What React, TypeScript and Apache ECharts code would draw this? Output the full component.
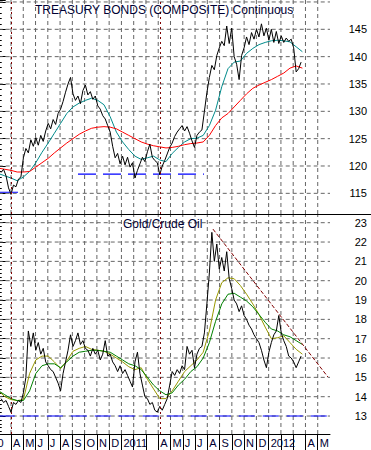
import React, { useEffect, useRef } from 'react';
import * as echarts from 'echarts';

// x unit: months since 1 Mar 2010 (month index 0 = Mar 2010, 27 = Jun 2012)
const monthLabels = ['', 'A', 'M', 'J', 'J', 'A', 'S', 'O', 'N', 'D', '2011', '', '', 'A', 'M', 'J', 'J', 'A', 'S', 'O', 'N', 'D', '2012', '', '', 'A', 'M'];
const firstYearLabel = '2010';
const firstYearLabelAt = 0.4;
const markerMonths = [1, 13.143];
const bondTickLabels = [115, 120, 125, 130, 135, 140, 145];
const bondGridLevels = [115, 120, 125, 130, 135, 140, 145, 150];
const ratioTickLabels = [13, 14, 15, 16, 17, 18, 19, 20, 21, 22, 23];

const closeStart = 0.1915;
const closeStep = 0.2021;
const bondClose = [
  118.8, 119.4, 118.2, 116.0, 114.8, 116.5, 116.2, 117.6, 118.0, 121.5,
  123.2, 122.4, 124.8, 123.6, 125.2, 123.8, 125.6, 124.5, 126.4, 127.8,
  126.8, 128.5, 127.6, 129.6, 130.4, 131.8, 133.5, 135.0, 136.2, 133.2,
  132.0, 132.8, 131.4, 133.8, 134.8, 133.0, 133.6, 132.2, 132.8, 131.0,
  130.4, 129.2, 128.6, 127.4, 126.2, 123.6, 121.5, 122.3, 120.4, 121.8,
  120.2, 121.6, 119.8, 120.6, 117.8, 119.2, 120.4, 121.6, 120.8, 122.6,
  124.0, 121.6, 121.0, 120.6, 118.4, 120.0, 121.0, 122.2, 123.4, 124.2,
  125.4, 126.2, 126.8, 127.4, 126.4, 127.2, 126.0, 124.6, 123.4, 125.6,
  126.2, 126.6, 130.0, 133.4, 136.2, 138.4, 137.6, 140.2, 141.6, 142.8,
  142.0, 145.6, 142.4, 145.2, 140.0, 138.6, 135.8, 140.2, 141.6, 143.6,
  142.2, 144.4, 143.2, 145.0, 143.6, 146.0, 143.8, 145.2, 143.0, 145.0,
  142.6, 144.6, 142.4, 143.8, 142.6, 143.4, 142.8, 143.2, 141.6, 137.2,
  137.8, 139.0
];
const ratioClose = [
  13.9, 13.7, 13.8, 13.5, 13.2, 13.7, 13.6, 13.8, 13.7, 14.2,
  15.0, 17.4, 16.6, 17.3, 16.4, 16.8, 16.2, 16.5, 15.8, 15.6,
  15.4, 15.3, 15.0, 14.7, 14.3, 15.2, 15.8, 16.4, 17.2, 16.6,
  16.9, 17.3, 16.7, 16.9, 16.5, 16.4, 16.1, 16.5, 16.2, 16.4,
  15.9, 16.2, 16.9, 16.1, 16.2, 15.8, 15.6, 15.3, 15.6, 15.2,
  15.4, 15.1, 14.8, 14.5, 15.8, 16.3, 15.2, 14.6, 14.0, 13.9,
  13.6, 13.7, 13.3, 13.2, 13.5, 13.3, 13.6, 13.9, 14.6, 15.3,
  15.1, 15.4, 15.2, 15.6, 15.4, 16.6, 16.2, 16.4, 15.5, 16.2,
  16.5, 16.6, 17.3, 18.8, 20.4, 22.5, 21.0, 21.9, 20.6, 21.2,
  20.5, 21.5, 20.1, 19.6, 19.0, 18.8, 18.4, 18.7, 18.2, 18.0,
  17.7, 17.5, 17.2, 17.0, 16.8, 16.4, 15.9, 15.5, 16.3, 16.8,
  17.2, 17.4, 18.2, 17.3, 16.9, 16.6, 16.1, 16.0, 15.8, 15.5,
  15.8, 16.1
];

const maStart = -0.0106;
const maStep = 0.5053;
const bondMaFast = [
  118.6, 118.2, 117.8, 117.3, 118.0, 119.0, 120.6, 122.5, 124.2, 126.0,
  127.8, 129.6, 130.8, 131.5, 132.0, 132.4, 132.0, 131.2, 129.0, 126.2,
  124.4, 123.0, 121.8, 121.2, 121.5, 121.8, 121.1, 120.8, 122.3, 123.4,
  124.4, 125.0, 125.1, 125.6, 127.4, 130.2, 134.5, 137.8, 139.0, 139.2,
  140.6, 141.5, 142.2, 142.6, 142.9, 143.0, 142.9, 142.7, 141.8, 140.9
];
const bondMaSlow = [
  119.6, 119.4, 119.2, 118.9, 118.9, 119.0, 119.8, 120.6, 121.4, 122.4,
  123.3, 124.2, 125.0, 125.8, 126.4, 126.9, 127.1, 127.2, 127.1, 126.8,
  126.2, 125.6, 125.0, 124.4, 124.0, 123.7, 123.5, 123.3, 123.4, 123.6,
  123.9, 124.1, 124.2, 124.4, 125.6, 127.4, 128.8, 129.6, 130.8, 132.0,
  133.2, 134.2, 134.8, 135.3, 135.8, 136.4, 137.0, 137.9, 138.3, 137.9
];
const ratioMaFast = [
  14.3, 14.0, 13.85, 13.8, 13.85, 15.2, 15.9, 16.1, 16.1, 15.8,
  15.45, 15.85, 16.35, 16.5, 16.6, 16.45, 16.4, 16.35, 16.2, 16.0,
  15.8, 15.55, 15.4, 15.5, 14.9, 14.4, 13.9, 13.9, 14.3, 14.8,
  15.3, 15.6, 15.9, 16.3, 17.4, 19.0, 19.9, 20.15, 20.1, 19.75,
  19.3, 18.8, 18.25, 17.6, 17.0, 17.05, 17.15, 16.8, 16.45, 16.2
];
const ratioMaSlow = [
  14.3, 14.1, 13.9, 13.8, 13.8, 14.3, 15.2, 15.6, 15.7, 15.7,
  15.5, 15.8, 16.1, 16.3, 16.35, 16.4, 16.4, 16.35, 16.3, 16.1,
  15.9, 15.7, 15.6, 15.4, 15.0, 14.6, 14.3, 14.1, 14.2, 14.6,
  14.9, 15.3, 15.55, 16.0, 16.8, 17.9, 18.8, 19.3, 19.35, 19.15,
  18.95, 18.65, 18.25, 17.85, 17.5, 17.4, 17.2, 17.1, 16.9, 16.7
];

// [from month, to month, level]
const bondSupports = [[0.1035, 1.733, 115.2], [6.46, 16.73, 118.5]];
const ratioSupport = [0, 27, 13];
const ratioTrend = [[17.46, 22.67], [26.83, 15.02]];

const X_MAX = 27;
const TOP_Y = [111.22, 150.36];
const BOT_Y = [12.07, 23.45];
const FONT = "'Liberation Sans', Arial, sans-serif";

const toPairs = (vals: number[], start: number, step: number) =>
  vals.map((v, i) => [start + i * step, v]);

export default function App() {
  const ref = useRef<HTMLDivElement>(null);
  useEffect(() => {
    if (!ref.current) return;
    const chart = echarts.init(ref.current, undefined, { renderer: 'svg' });
    const gridMonths = monthLabels.map((_, i) => i).filter((i) => i > 0);
    // grid lines as null-separated segments built from the tick arrays
    const gridSegments = (levels: number[], yr: number[]) => {
      const out: any[] = [];
      gridMonths.forEach((m) => { out.push([m, yr[0]], [m, yr[1]], null); });
      levels.forEach((v) => { out.push([0, v], [X_MAX, v], null); });
      return out;
    };
    const markLineDots = () => ({
      silent: true,
      symbol: ['none', 'none'],
      label: { show: false },
      lineStyle: { color: '#800000', type: [2, 3], width: 1 },
      data: markerMonths.map((m) => ({ xAxis: m })),
    });
    const line = (name: string, data: any, color: string, xi: number, extra: any = {}) => ({
      name,
      type: 'line',
      xAxisIndex: xi,
      yAxisIndex: xi,
      data,
      showSymbol: false,
      symbol: 'none',
      lineStyle: { color, width: 1 },
      itemStyle: { color },
      z: 3,
      ...extra,
    });
    const yAxisFor = (gi: number, yr: number[], step: number, labels: number[]) => ({
      type: 'value',
      gridIndex: gi,
      position: 'right',
      min: yr[0],
      max: yr[1],
      splitNumber: Math.round((yr[1] - yr[0]) / step),
      minInterval: step,
      maxInterval: step,
      axisLine: { show: true, lineStyle: { color: '#000', width: 1 } },
      axisTick: { show: true, length: 7, lineStyle: { color: '#000' } },
      minorTick: { show: true, splitNumber: 5, length: 3, lineStyle: { color: '#000' } },
      splitLine: { show: false },
      axisLabel: {
        show: true, align: 'right', margin: 37, color: '#000', fontSize: 11, fontFamily: FONT,
        showMinLabel: true, showMaxLabel: true,
        formatter: (v: number) => (labels.some((l) => Math.abs(l - v) < 1e-6) ? String(Math.round(v)) : ''),
      },
    });
    const gridCommon = { left: -1.27, right: 41, containLabel: false, outerBoundsMode: 'none', show: false };
    const gridStyle = { lineStyle: { color: '#666666', width: 1, type: [4, 3], opacity: 1 }, connectNulls: false, silent: true, z: 1 };
    const option: any = {
      animation: false,
      backgroundColor: '#fff',
      title: [
        { text: 'TREASURY BONDS (COMPOSITE) Continuous', left: 35, top: 4, padding: 0,
          textStyle: { fontSize: 12, fontWeight: 'normal', color: '#000033', fontFamily: FONT } },
        { text: 'Gold/Crude Oil', left: 123, top: 218, padding: 0,
          textStyle: { fontSize: 12, fontWeight: 'normal', color: '#000033', fontFamily: FONT } },
      ],
      grid: [
        { ...gridCommon, top: 0, height: 214 },
        { ...gridCommon, top: 214, height: 220 },
      ],
      xAxis: [
        {
          type: 'value', gridIndex: 0, min: 0, max: X_MAX, interval: 1,
          axisLine: { show: false }, axisTick: { show: false }, axisLabel: { show: false },
          splitLine: { show: false },
        },
        {
          type: 'value', gridIndex: 1, min: 0, max: X_MAX, interval: 1, position: 'bottom',
          axisLine: { show: true, onZero: false, lineStyle: { color: '#000', width: 1 } },
          axisTick: { show: true, length: 16, lineStyle: { color: '#000' } },
          splitLine: { show: false },
          axisLabel: {
            show: true, align: 'left', margin: 3, padding: [0, 0, 0, 2], color: '#000033',
            fontSize: 11, fontFamily: FONT, showMinLabel: true, showMaxLabel: false,
            formatter: (v: number) => {
              const i = Math.round(v);
              if (Math.abs(v - i) > 1e-6) return '';
              return monthLabels[i] || '';
            },
          },
        },
        {
          type: 'value', gridIndex: 1, min: 0, max: X_MAX, position: 'bottom',
          axisLine: { show: false }, axisTick: { show: false }, splitLine: { show: false },
          axisLabel: {
            show: true, align: 'right', margin: 3, color: '#000033', fontSize: 11, fontFamily: FONT,
            customValues: [firstYearLabelAt], showMinLabel: true, showMaxLabel: true,
            formatter: (v: number) => (Math.abs(v - firstYearLabelAt) < 1e-6 ? firstYearLabel : ''),
          },
        },
      ],
      yAxis: [
        yAxisFor(0, TOP_Y, 5, bondTickLabels),
        yAxisFor(1, BOT_Y, 1, ratioTickLabels),
      ],
      series: [
        line('grid top', gridSegments(bondGridLevels, TOP_Y), '#666666', 0, gridStyle),
        line('grid bottom', gridSegments(ratioTickLabels, BOT_Y), '#666666', 1, gridStyle),
        line('Treasury Bonds', toPairs(bondClose, closeStart, closeStep), '#000000', 0, { markLine: markLineDots(), z: 4 }),
        line('Bonds MA fast', toPairs(bondMaFast, maStart, maStep), '#008b8b', 0),
        line('Bonds MA slow', toPairs(bondMaSlow, maStart, maStep), '#ff0000', 0),
        ...bondSupports.map((s, k) =>
          line('Bonds support ' + k, [[s[0], s[2]], [s[1], s[2]]], '#0000ff', 0,
            { lineStyle: { color: '#0000ff', width: 1.2, type: [18, 7] } })),
        line('Gold/Crude Oil', toPairs(ratioClose, closeStart, closeStep), '#000000', 1, { markLine: markLineDots(), z: 4 }),
        line('Ratio MA fast', toPairs(ratioMaFast, maStart, maStep), '#999900', 1),
        line('Ratio MA slow', toPairs(ratioMaSlow, maStart, maStep), '#008000', 1),
        line('Ratio support', [[ratioSupport[0], ratioSupport[2]], [ratioSupport[1], ratioSupport[2]]], '#0000ff', 1,
          { lineStyle: { color: '#0000ff', width: 1.2, type: [16, 8] } }),
        line('Ratio trend', ratioTrend, '#800000', 1,
          { lineStyle: { color: '#800000', width: 1, type: [4, 2] } }),
      ],
      graphic: [
        { type: 'line', shape: { x1: 0, y1: 214.5, x2: 371, y2: 214.5 }, style: { stroke: '#000', lineWidth: 1 }, z: 10 },
      ],
    };
    chart.setOption(option);
    return () => chart.dispose();
  }, []);
  return (
    <div
      ref={ref}
      style={{ position: 'fixed', left: 0, top: 0, width: 371, height: 450, background: '#fff' }}
    />
  );
}
